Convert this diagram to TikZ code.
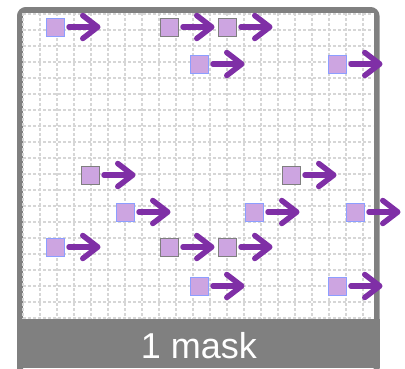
\documentclass[tikz,border=0pt]{standalone}
\usepackage{fontspec}
\setmainfont{Liberation Sans}
\usetikzlibrary{arrows.meta}
\definecolor{cellFill}{HTML}{CDA5E1}
\definecolor{edgeBlue}{HTML}{8C9EFF}
\definecolor{edgeGray}{HTML}{7F7F7F}
\definecolor{arrowPurple}{HTML}{7F2FA6}
\definecolor{gridGray}{HTML}{D6D6D6}
\definecolor{frameGray}{HTML}{808080}

\begin{document}
\begin{tikzpicture}[x=1pt, y=-1pt,
  cell/.style={draw, fill=cellFill, minimum size=18pt, inner sep=0pt, line width=1pt},
  cellA/.style={cell, draw=edgeBlue},
  cellB/.style={cell, draw=edgeGray},
  push/.style={arrowPurple, line width=5.5pt, line cap=round,
    -{Straight Barb[round, length=15pt, width=23pt]}},
  gridline/.style={gridGray, line width=1.2pt, dash pattern=on 3pt off 2pt},
]
  \useasboundingbox (0,0) rectangle (405,368);

  % frame and grid
  \draw[frameGray, line width=6pt, rounded corners=6pt] (20,10) rectangle (376.5,380);
  \fill[white] (23,13) rectangle (373.5,319);
  \foreach \i in {0,...,20}
    \draw[gridline] (23+\i*17,13) -- (23+\i*17,319);
  \foreach \j in {0,...,19}
    \draw[gridline] (23,14+\j*16) -- (373,14+\j*16);
  \fill[frameGray] (17,319) rectangle (379.5,368);
  \node[text=white, font=\fontsize{36}{40}\selectfont, anchor=base] (caption) at (199,358) {1 mask};

  % cells
  \node[cellA] (q1) at (55,27) {};
  \node[cellB] (q2) at (169,27) {};
  \node[cellB] (q3) at (227,27) {};
  \node[cellA] (q4) at (199,64) {};
  \node[cellA] (q5) at (337,64) {};
  \node[cellB] (q6) at (90,175) {};
  \node[cellB] (q7) at (291,175) {};
  \node[cellA] (q8) at (125,212) {};
  \node[cellA] (q9) at (254,212) {};
  \node[cellA] (q10) at (355,212) {};
  \node[cellA] (q11) at (55,247) {};
  \node[cellB] (q12) at (169,247) {};
  \node[cellB] (q13) at (227,247) {};
  \node[cellA] (q14) at (199,286) {};
  \node[cellA] (q15) at (337,286) {};

  % moves
  \foreach \n in {1,...,15}
    \draw[push] (q\n.east) ++(4.5,0) -- ++(31.5,0);
\end{tikzpicture}
\end{document}
